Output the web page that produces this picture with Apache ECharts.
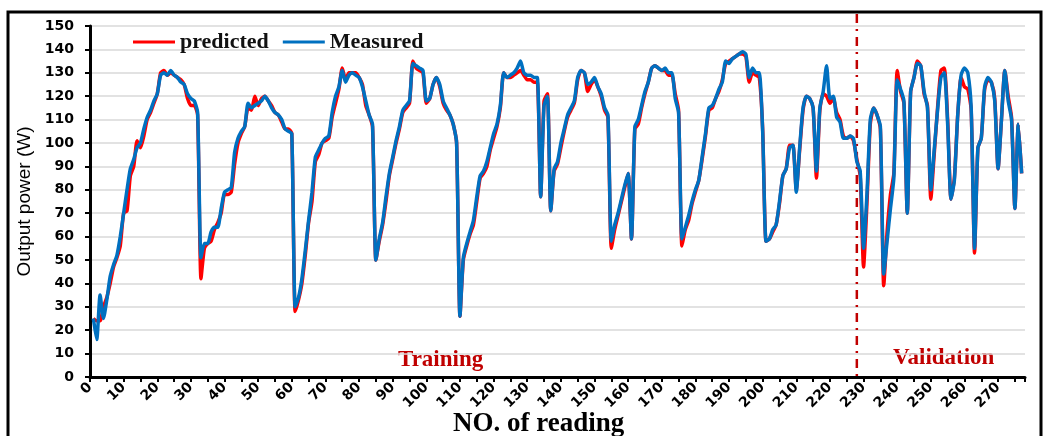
<!DOCTYPE html>
<html>
<head>
<meta charset="utf-8">
<script src="https://cdn.jsdelivr.net/npm/echarts@6/dist/echarts.min.js"></script>
<style>
  html, body { margin: 0; padding: 0; background: #fff; }
  #chart { width: 1043px; height: 436px; }
</style>
</head>
<body>
<div id="chart"></div>
<script>
// output power (W) per reading, reading numbers start at 1
var measured = [
  25, 16, 35, 25, 33, 43, 48, 52, 60, 70, 80, 89, 93, 98, 100, 106, 111, 114, 118, 121,
  129, 130, 129, 131, 129, 128, 126, 125, 121, 119, 118, 113, 51, 57, 57, 62, 64, 64, 72, 79,
  80, 81, 96, 102, 105, 107, 117, 115, 116, 117, 118, 120, 118, 115, 113, 112, 110, 106, 105, 104,
  30, 34, 42, 54, 67, 79, 94, 97, 100, 102, 103, 113, 120, 124, 131, 126, 129, 130, 129, 128,
  124, 118, 112, 108, 50, 59, 66, 77, 87, 94, 101, 107, 114, 116, 118, 134, 133, 132, 131, 118,
  119, 125, 128, 125, 118, 115, 112, 108, 100, 26, 51, 57, 62, 67, 77, 86, 88, 92, 98, 104,
  108, 116, 130, 128, 129, 130, 132, 135, 130, 129, 129, 128, 128, 77, 116, 120, 71, 89, 92, 100,
  106, 112, 115, 118, 128, 131, 130, 125, 126, 128, 124, 121, 115, 112, 58, 65, 70, 76, 82, 87,
  59, 107, 110, 116, 122, 126, 132, 133, 132, 131, 132, 130, 130, 119, 113, 59, 64, 69, 75, 80,
  84, 94, 104, 115, 116, 119, 123, 126, 135, 134, 136, 137, 138, 139, 138, 128, 132, 130, 130, 105,
  58, 59, 63, 65, 75, 86, 89, 98, 99, 79, 98, 115, 120, 119, 115, 88, 115, 122, 133, 119,
  120, 111, 109, 102, 102, 103, 102, 92, 88, 55, 78, 110, 115, 112, 107, 44, 58, 72, 85, 127,
  123, 118, 70, 122, 128, 134, 133, 122, 115, 80, 97, 114, 128, 130, 108, 76, 84, 112, 129, 132,
  130, 115, 55, 98, 102, 124, 128, 126, 118, 89, 110, 131, 118, 110, 72, 108, 87
];
var predicted = [
  25, 24, 24, 30, 34, 40, 47, 51, 56, 70, 71, 86, 90, 101, 98, 103, 110, 113, 117, 121,
  130, 131, 129, 130, 129, 128, 127, 125, 119, 116, 116, 112, 42, 55, 57, 58, 63, 66, 70, 78,
  78, 79, 91, 100, 104, 107, 115, 114, 120, 116, 119, 120, 118, 116, 113, 112, 109, 106, 106, 104,
  28, 33, 40, 52, 66, 75, 92, 95, 100, 101, 102, 111, 117, 123, 132, 127, 130, 130, 130, 128,
  125, 116, 112, 107, 50, 58, 65, 75, 86, 93, 100, 106, 113, 115, 117, 135, 132, 131, 130, 117,
  119, 125, 128, 124, 117, 114, 112, 108, 100, 26, 50, 56, 61, 65, 75, 85, 87, 90, 97, 102,
  107, 115, 130, 128, 128, 129, 130, 131, 129, 127, 127, 126, 126, 77, 118, 121, 71, 88, 91, 98,
  105, 111, 114, 117, 127, 131, 130, 122, 125, 127, 124, 120, 114, 111, 55, 63, 69, 75, 81, 87,
  59, 106, 108, 115, 121, 126, 132, 133, 132, 131, 131, 129, 129, 121, 114, 56, 63, 67, 74, 79,
  84, 93, 103, 114, 115, 119, 122, 127, 134, 135, 136, 137, 138, 138, 137, 126, 130, 129, 128, 106,
  58, 59, 62, 65, 74, 86, 89, 99, 99, 80, 97, 114, 120, 119, 115, 85, 114, 121, 120, 117,
  119, 113, 110, 103, 102, 103, 101, 93, 86, 47, 74, 108, 115, 112, 106, 39, 62, 78, 87, 131,
  122, 117, 70, 122, 128, 135, 133, 121, 116, 76, 95, 115, 131, 132, 110, 76, 85, 112, 128, 124,
  123, 114, 53, 98, 102, 123, 127, 126, 119, 89, 110, 131, 120, 111, 72, 108, 87
];
var splitReading = 228;
var xMax = 278;

function pairs(arr) {
  return arr.map(function (v, i) { return [i + 1, v]; });
}

var myChart = echarts.init(document.getElementById('chart'));

myChart.setOption({
  backgroundColor: '#ffffff',
  animation: false,
  grid: {
    left: 90,
    right: 18,
    top: 26,
    bottom: 59
  },
  legend: {
    left: 128,
    top: 26,
    icon: 'rect',
    itemWidth: 42,
    itemHeight: 3,
    itemGap: 14,
    textStyle: {
      fontFamily: 'Liberation Serif',
      fontWeight: 'bold',
      fontSize: 22,
      color: '#111'
    },
    data: ['predicted', 'Measured']
  },
  xAxis: {
    type: 'value',
    min: 0,
    max: xMax,
    interval: 5,
    axisLine: { lineStyle: { color: '#000', width: 3 } },
    axisTick: { show: true, length: 5, lineStyle: { color: '#000', width: 2 } },
    splitLine: { show: false },
    axisLabel: {
      rotate: 45,
      margin: 8,
      fontFamily: 'DejaVu Sans',
      fontWeight: 'bold',
      fontSize: 14,
      color: '#000',
      formatter: function (v) { return v % 10 === 0 ? String(v) : ''; }
    }
  },
  yAxis: {
    type: 'value',
    min: 0,
    max: 150,
    interval: 10,
    name: 'Output power (W)',
    nameLocation: 'middle',
    nameGap: 53,
    nameTextStyle: {
      fontFamily: 'Liberation Sans',
      fontSize: 19,
      color: '#000'
    },
    axisLine: { show: true, lineStyle: { color: '#000', width: 3 } },
    axisTick: { show: true, length: 5, lineStyle: { color: '#000', width: 2 } },
    splitLine: { lineStyle: { color: '#d9d9d9', width: 1.5 } },
    axisLabel: {
      margin: 16,
      fontFamily: 'DejaVu Sans',
      fontWeight: 'bold',
      fontSize: 14,
      color: '#000'
    }
  },
  series: [
    {
      name: 'predicted',
      type: 'line',
      symbol: 'none',
      smooth: 0.2,
      z: 3,
      color: '#ff0000',
      lineStyle: { width: 3.5, color: '#ff0000' },
      data: pairs(predicted)
    },
    {
      name: 'Measured',
      type: 'line',
      symbol: 'none',
      smooth: 0.2,
      z: 4,
      color: '#0070c0',
      lineStyle: { width: 3.5, color: '#0070c0' },
      data: pairs(measured)
    }
  ],
  graphic: [
    {
      id: 'frame',
      type: 'rect',
      shape: { x: 8, y: 12, width: 1033, height: 440 },
      style: { fill: 'none', stroke: '#000', lineWidth: 3 },
      silent: true
    },
    {
      id: 'trainText',
      type: 'text',
      left: 398,
      top: 349,
      style: {
        text: 'Training',
        fill: '#c00000',
        font: 'bold 23px "Liberation Serif"'
      }
    },
    {
      id: 'validText',
      type: 'text',
      left: 893,
      top: 347,
      style: {
        text: 'Validation',
        fill: '#c00000',
        font: 'bold 23px "Liberation Serif"'
      }
    },
    {
      id: 'xName',
      type: 'text',
      left: 453,
      top: 411,
      style: {
        text: 'NO. of reading',
        fill: '#000',
        font: 'bold 27px "Liberation Serif"'
      }
    }
  ]
});

// training / validation divider, placed through the axis scale
var splitX = myChart.convertToPixel({ xAxisIndex: 0 }, splitReading);
var baseY = myChart.convertToPixel({ yAxisIndex: 0 }, 0);
myChart.setOption({
  graphic: [
    {
      id: 'divider',
      type: 'line',
      shape: { x1: splitX, y1: 14, x2: splitX, y2: baseY },
      style: { stroke: '#c00000', lineWidth: 2.5, lineDash: [9, 6, 2, 6] },
      silent: true,
      z: 1
    }
  ]
});
</script>
</body>
</html>
